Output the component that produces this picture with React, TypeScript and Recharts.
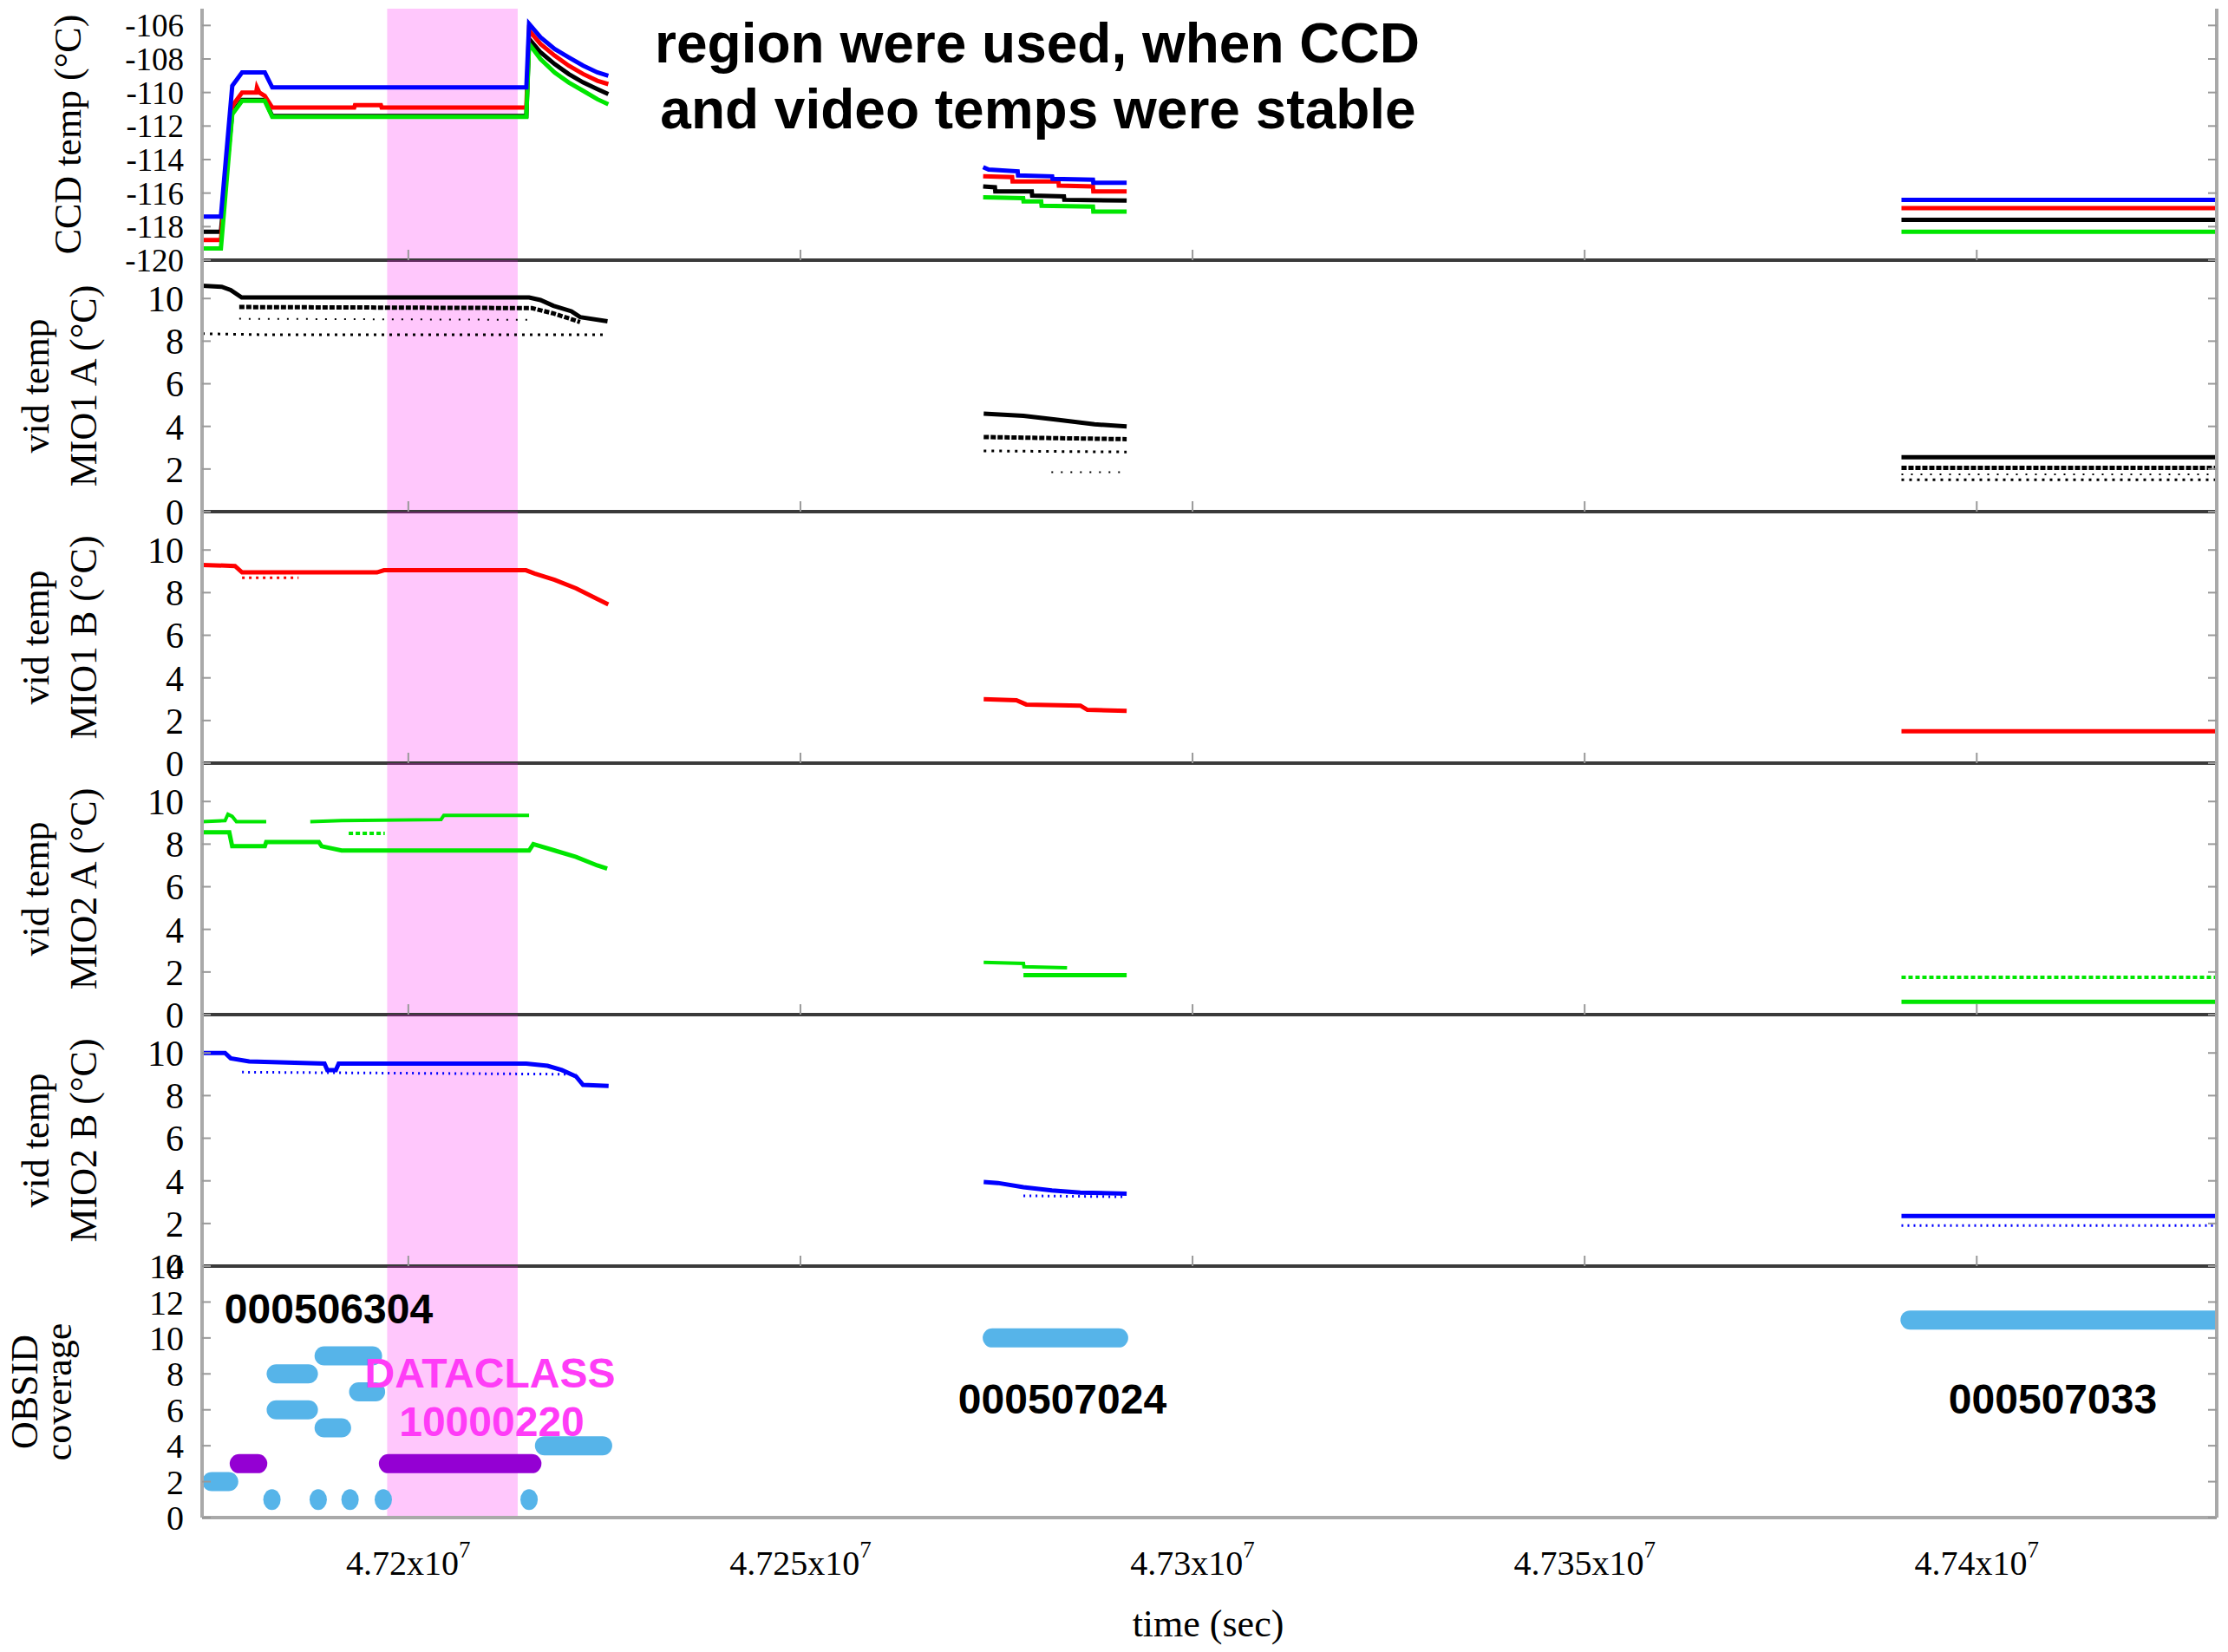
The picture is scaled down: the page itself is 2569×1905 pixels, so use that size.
import React from "react";
import {
  ComposedChart,
  Line,
  Scatter,
  XAxis,
  YAxis,
  ReferenceArea,
} from "recharts";

type Pt = [number, number | null];
type Bar = [number, number, number];

// time axis (sec)
const T_START = 47173700;
const T_END = 47430600;
const X_TICKS = [47200000, 47250000, 47300000, 47350000, 47400000];
const X_TICK_LABELS = ["4.72x10", "4.725x10", "4.73x10", "4.735x10", "4.74x10"];
const X_TICK_EXP = "7";
const SHADE_FROM = 47197300;
const SHADE_TO = 47213950;

const CCD_TICKS = [-120, -118, -116, -114, -112, -110, -108, -106];
const VID_TICKS = [0, 2, 4, 6, 8, 10];
const OBS_TICKS = [0, 2, 4, 6, 8, 10, 12, 14];

// CCD temps
const CCD_BLUE: Pt[] = [
  [47173700, -117.4], [47176100, -117.4], [47177550, -109.6], [47178800, -108.8], [47181700, -108.8],
  [47182650, -109.7], [47215050, -109.7], [47215400, -105.9], [47216850, -106.7], [47218650, -107.4],
  [47220450, -107.9], [47222300, -108.4], [47224100, -108.8], [47225500, -109.0],
  [47250000, null],
  [47273300, -114.45], [47274000, -114.6], [47277700, -114.7], [47277750, -114.95], [47282100, -115.0],
  [47282150, -115.15], [47287300, -115.2], [47287350, -115.38], [47291600, -115.38],
  [47350000, null],
  [47390400, -116.4], [47430600, -116.4],
];
const CCD_RED: Pt[] = [
  [47173700, -118.8], [47176100, -118.8], [47177550, -110.8], [47178800, -110.0], [47180600, -110.0],
  [47180700, -109.7], [47181000, -110.0], [47181700, -110.2], [47182650, -110.9], [47193100, -110.9],
  [47193200, -110.75], [47196500, -110.75], [47196600, -110.9], [47215050, -110.9], [47215400, -106.3],
  [47216850, -107.1], [47218650, -107.8], [47220450, -108.4], [47222300, -108.9], [47224100, -109.3],
  [47225500, -109.5],
  [47250000, null],
  [47273300, -115.0], [47277000, -115.05], [47277050, -115.3], [47282900, -115.3], [47282950, -115.55],
  [47287300, -115.6], [47287350, -115.9], [47291600, -115.9],
  [47350000, null],
  [47390400, -116.9], [47430600, -116.9],
];
const CCD_BLACK: Pt[] = [
  [47173700, -118.3], [47176100, -118.3], [47177550, -111.2], [47178800, -110.45], [47181700, -110.45],
  [47182650, -111.4], [47215050, -111.4], [47215400, -106.8], [47216850, -107.6], [47218650, -108.3],
  [47220450, -108.9], [47222300, -109.4], [47224100, -109.8], [47225500, -110.1],
  [47250000, null],
  [47273300, -115.6], [47274800, -115.65], [47274850, -115.9], [47279500, -115.9], [47279550, -116.15],
  [47283600, -116.2], [47283650, -116.4], [47291600, -116.45],
  [47350000, null],
  [47390400, -117.6], [47430600, -117.6],
];
const CCD_GREEN: Pt[] = [
  [47173700, -119.3], [47176100, -119.3], [47177550, -111.3], [47178800, -110.5], [47181700, -110.5],
  [47182650, -111.45], [47215050, -111.45], [47215400, -107.1], [47216850, -108.0], [47218650, -108.8],
  [47220450, -109.4], [47222300, -109.9], [47224100, -110.4], [47225500, -110.7],
  [47250000, null],
  [47273300, -116.25], [47278400, -116.3], [47278450, -116.5], [47280700, -116.5], [47280750, -116.75],
  [47287300, -116.8], [47287350, -117.1], [47291600, -117.1],
  [47350000, null],
  [47390400, -118.3], [47430600, -118.3],
];

// vid temp MIO1 A
const MIO1A_MAIN: Pt[] = [
  [47173700, 10.6], [47176200, 10.55], [47177350, 10.4], [47178750, 10.05], [47215400, 10.05],
  [47216850, 9.93], [47218500, 9.66], [47220800, 9.4], [47221900, 9.13], [47225400, 8.93],
  [47250000, null],
  [47273370, 4.6], [47278440, 4.5], [47282970, 4.3], [47287500, 4.1], [47291600, 4.0],
  [47350000, null],
  [47390400, 2.55], [47430600, 2.55],
];
const MIO1A_BAND_HI: Pt[] = [
  [47178440, 9.6], [47215760, 9.55], [47218500, 9.3], [47221900, 8.9],
  [47250000, null],
  [47273370, 3.5], [47291600, 3.4],
  [47350000, null],
  [47390400, 2.05], [47430600, 2.05],
];
const MIO1A_BAND_LO: Pt[] = [
  [47173700, 8.35], [47181700, 8.3], [47215760, 8.3], [47225400, 8.3],
  [47250000, null],
  [47273370, 2.85], [47291600, 2.8],
  [47350000, null],
  [47390400, 1.5], [47430600, 1.5],
];
const MIO1A_BAND_MIN: Pt[] = [
  [47178440, 9.05], [47215760, 9.0],
  [47250000, null],
  [47282000, 1.85], [47291600, 1.85],
  [47350000, null],
  [47390400, 1.75], [47430600, 1.75],
];

// vid temp MIO1 B
const MIO1B_MAIN: Pt[] = [
  [47173700, 9.3], [47177900, 9.25], [47178800, 8.95], [47196000, 8.95], [47196900, 9.05],
  [47215000, 9.05], [47216100, 8.9], [47218650, 8.6], [47221400, 8.2], [47224100, 7.7], [47225500, 7.45],
  [47250000, null],
  [47273370, 3.0], [47277540, 2.95], [47278800, 2.75], [47285700, 2.7], [47286600, 2.5], [47291600, 2.45],
  [47350000, null],
  [47390400, 1.5], [47430600, 1.5],
];
const MIO1B_BAND: Pt[] = [[47178800, 8.7], [47186000, 8.7]];

// vid temp MIO2 A
const MIO2A_UPPER: Pt[] = [
  [47173700, 9.05], [47176630, 9.1], [47177000, 9.4], [47177540, 9.3], [47178080, 9.05], [47181880, 9.05],
  [47184500, null],
  [47187500, 9.05], [47191500, 9.1], [47204170, 9.15], [47204530, 9.35], [47215400, 9.35],
  [47250000, null],
  [47273370, 2.45], [47278440, 2.4], [47278500, 2.25], [47284000, 2.2],
];
const MIO2A_LOWER: Pt[] = [
  [47173700, 8.55], [47177170, 8.55], [47177540, 7.9], [47181700, 7.9], [47181880, 8.1], [47188590, 8.1],
  [47188950, 7.9], [47191490, 7.7], [47215400, 7.7], [47215940, 8.0], [47218660, 7.7], [47221380, 7.4],
  [47224090, 7.0], [47225360, 6.85],
  [47250000, null],
  [47278440, 1.85], [47291600, 1.85],
  [47350000, null],
  [47390400, 0.6], [47430600, 0.6],
];
const MIO2A_BAND: Pt[] = [
  [47192400, 8.5], [47197000, 8.5],
  [47350000, null],
  [47390400, 1.75], [47430600, 1.75],
];

// vid temp MIO2 B
const MIO2B_MAIN: Pt[] = [
  [47173700, 10.0], [47176630, 10.0], [47177350, 9.75], [47179710, 9.6], [47189310, 9.5], [47189670, 9.2],
  [47190760, 9.2], [47191120, 9.5], [47215040, 9.5], [47217750, 9.4], [47219570, 9.2], [47221380, 8.9],
  [47222280, 8.5], [47225540, 8.45],
  [47250000, null],
  [47273370, 3.95], [47275180, 3.9], [47278440, 3.7], [47282070, 3.55], [47285690, 3.45], [47291600, 3.4],
  [47350000, null],
  [47390400, 2.35], [47430600, 2.35],
];
const MIO2B_BAND: Pt[] = [
  [47178800, 9.1], [47221400, 9.0],
  [47250000, null],
  [47278440, 3.3], [47291600, 3.25],
  [47350000, null],
  [47390400, 1.9], [47430600, 1.9],
];

// OBSID coverage: [start, end, level]
const OBSID_BLUE_BARS: Bar[] = [
  [47174930, 47177100, 2], [47183150, 47187260, 8], [47183150, 47187260, 6], [47189260, 47195440, 9],
  [47189260, 47191490, 5], [47193660, 47195830, 7], [47217360, 47224780, 4], [47274460, 47290580, 10],
  [47391490, 47430600, 11],
];
const OBSID_PURPLE_BARS: Bar[] = [[47178440, 47180800, 3], [47197460, 47215760, 3]];
const OBSID_DOTS = [47182610, 47188510, 47192570, 47196810, 47215400];
const OBSID_DOT_LEVEL = 1;

const W = 2569;
const H = 1905;
const PLOT_LEFT = 233;
const PLOT_RIGHT = 2556;
const PANEL_H = 290;
const PAD = 40;
const X_AXIS_H = 150;
const SERIF = "'Liberation Serif', 'DejaVu Serif', serif";
const SANS = "'Liberation Sans', Arial, sans-serif";
const FRAME = "#a9a9a9";
const SEP = "#3a3a3a";
const TICK = "#999";
const OBS_BLUE = "#56b4e9";
const OBS_PURPLE = "#9400d3";
const MAGENTA = "#ff3cf7";

const rows = (pts: Pt[]) => pts.map(([t, v]) => ({ t, v }));

interface LineSpec {
  pts: Pt[];
  color: string;
  width: number;
  dash?: string;
}

interface PanelSpec {
  top: number;
  domain: [number, number];
  ticks: number[];
  tickFont: number;
  title: string[];
  titleX: number[];
  lines: LineSpec[];
  blueBars?: Bar[];
  purpleBars?: Bar[];
  dots?: number[];
  first?: boolean;
  last?: boolean;
}

const yTitle = (lines: string[], xs: number[]) => (props: any) => {
  const vb = props.viewBox || { y: PAD, height: PANEL_H };
  const cy = vb.y + vb.height / 2;
  return (
    <g>
      {lines.map((s, i) => (
        <text
          key={i}
          transform={`translate(${xs[i]},${cy}) rotate(-90)`}
          textAnchor="middle"
          fontFamily={SERIF}
          fontSize={44}
          fill="#000"
        >
          {s}
        </text>
      ))}
    </g>
  );
};

// y tick labels sit outside the frame while the tick marks point inward
const yTick = (size: number) => (props: any) => {
  const { y, payload } = props;
  return (
    <text x={PLOT_LEFT - 21} y={y} dy="0.355em" textAnchor="end" fontFamily={SERIF} fontSize={size} fill="#000">
      {payload.value}
    </text>
  );
};

const XTick = (props: any) => {
  const { x, y, payload } = props;
  const i = X_TICKS.indexOf(payload.value);
  return (
    <text x={x} y={y + 66} textAnchor="middle" fontFamily={SERIF} fontSize={40} fill="#000">
      {X_TICK_LABELS[i]}
      <tspan dy={-20} fontSize={27}>
        {X_TICK_EXP}
      </tspan>
    </text>
  );
};

const noLabel = () => "";

function Panel({ p }: { p: PanelSpec }) {
  const height = PANEL_H + PAD + (p.last ? X_AXIS_H : PAD);
  return (
    <div style={{ position: "absolute", left: 0, top: p.top - PAD }}>
      <ComposedChart
        width={W}
        height={height}
        margin={{ top: PAD, right: W - PLOT_RIGHT, bottom: p.last ? 0 : PAD, left: PLOT_LEFT }}
      >
        {p.last ? (
          <XAxis
            type="number"
            dataKey="t"
            domain={[T_START, T_END]}
            ticks={X_TICKS}
            allowDataOverflow
            height={X_AXIS_H}
            tickSize={0}
            tickMargin={0}
            tickLine={false}
            axisLine={{ stroke: FRAME, strokeWidth: 4 }}
            tick={<XTick />}
          />
        ) : (
          <XAxis
            type="number"
            dataKey="t"
            domain={[T_START, T_END]}
            ticks={X_TICKS}
            allowDataOverflow
            mirror
            tickSize={12}
            tickFormatter={noLabel}
            tickLine={{ stroke: TICK, strokeWidth: 2 }}
            axisLine={{ stroke: SEP, strokeWidth: 4 }}
          />
        )}
        <XAxis
          xAxisId="top"
          orientation="top"
          type="number"
          dataKey="t"
          domain={[T_START, T_END]}
          ticks={X_TICKS}
          allowDataOverflow
          mirror
          height={0}
          tickSize={12}
          tickFormatter={noLabel}
          tickLine={{ stroke: TICK, strokeWidth: 2 }}
          axisLine={p.first ? { stroke: FRAME, strokeWidth: 4 } : false}
        />
        <YAxis
          type="number"
          domain={p.domain}
          ticks={p.ticks}
          interval={0}
          allowDataOverflow
          mirror
          width={60}
          tickSize={10}
          tickMargin={0}
          tickLine={{ stroke: TICK, strokeWidth: 2 }}
          axisLine={{ stroke: FRAME, strokeWidth: 4 }}
          tick={yTick(p.tickFont)}
          label={{ content: yTitle(p.title, p.titleX) }}
        />
        <YAxis
          yAxisId="right"
          orientation="right"
          type="number"
          domain={p.domain}
          ticks={p.ticks}
          interval={0}
          allowDataOverflow
          mirror
          width={60}
          tickSize={10}
          tickFormatter={noLabel}
          tickLine={{ stroke: TICK, strokeWidth: 2 }}
          axisLine={{ stroke: FRAME, strokeWidth: 4 }}
        />
        {p.lines.map((l, i) => (
          <Line
            key={`l${i}`}
            data={rows(l.pts)}
            dataKey="v"
            type="linear"
            stroke={l.color}
            strokeWidth={l.width}
            strokeDasharray={l.dash}
            dot={false}
            activeDot={false}
            connectNulls={false}
            isAnimationActive={false}
            legendType="none"
          />
        ))}
        {(p.blueBars || []).map((b, i) => (
          <Line
            key={`b${i}`}
            data={[{ t: b[0], v: b[2] }, { t: b[1], v: b[2] }]}
            dataKey="v"
            stroke={OBS_BLUE}
            strokeWidth={22}
            strokeLinecap="round"
            dot={false}
            activeDot={false}
            isAnimationActive={false}
            legendType="none"
          />
        ))}
        {(p.purpleBars || []).map((b, i) => (
          <Line
            key={`p${i}`}
            data={[{ t: b[0], v: b[2] }, { t: b[1], v: b[2] }]}
            dataKey="v"
            stroke={OBS_PURPLE}
            strokeWidth={22}
            strokeLinecap="round"
            dot={false}
            activeDot={false}
            isAnimationActive={false}
            legendType="none"
          />
        ))}
        {p.dots && (
          <Scatter
            data={p.dots.map((t) => ({ t, v: OBSID_DOT_LEVEL }))}
            dataKey="v"
            fill={OBS_BLUE}
            isAnimationActive={false}
            legendType="none"
            shape={(s: any) => <ellipse cx={s.cx} cy={s.cy} rx={10} ry={12} fill={OBS_BLUE} />}
          />
        )}
        <ReferenceArea x1={SHADE_FROM} x2={SHADE_TO} fill="#ff00f0" fillOpacity={0.22} stroke="none" />
      </ComposedChart>
    </div>
  );
}

const VID_TITLE_X = [56, 111];

const PANELS: PanelSpec[] = [
  {
    top: 10,
    domain: [-120, -105],
    ticks: CCD_TICKS,
    tickFont: 37,
    title: ["CCD temp (°C)"],
    titleX: [93],
    first: true,
    lines: [
      { pts: CCD_BLACK, color: "#000000", width: 5 },
      { pts: CCD_RED, color: "#ff0000", width: 5 },
      { pts: CCD_GREEN, color: "#00e600", width: 5 },
      { pts: CCD_BLUE, color: "#0000ff", width: 5 },
    ],
  },
  {
    top: 300,
    domain: [0, 11.8],
    ticks: VID_TICKS,
    tickFont: 42,
    title: ["vid temp", "MIO1 A (°C)"],
    titleX: VID_TITLE_X,
    lines: [
      { pts: MIO1A_BAND_MIN, color: "#000000", width: 2, dash: "2 9" },
      { pts: MIO1A_BAND_LO, color: "#000000", width: 3, dash: "3 6" },
      { pts: MIO1A_BAND_HI, color: "#000000", width: 5, dash: "6 2" },
      { pts: MIO1A_MAIN, color: "#000000", width: 5 },
    ],
  },
  {
    top: 590,
    domain: [0, 11.8],
    ticks: VID_TICKS,
    tickFont: 42,
    title: ["vid temp", "MIO1 B (°C)"],
    titleX: VID_TITLE_X,
    lines: [
      { pts: MIO1B_BAND, color: "#ff0000", width: 3, dash: "3 5" },
      { pts: MIO1B_MAIN, color: "#ff0000", width: 5 },
    ],
  },
  {
    top: 880,
    domain: [0, 11.8],
    ticks: VID_TICKS,
    tickFont: 42,
    title: ["vid temp", "MIO2 A (°C)"],
    titleX: VID_TITLE_X,
    lines: [
      { pts: MIO2A_BAND, color: "#00e600", width: 4, dash: "5 3" },
      { pts: MIO2A_UPPER, color: "#00e600", width: 4 },
      { pts: MIO2A_LOWER, color: "#00e600", width: 5 },
    ],
  },
  {
    top: 1170,
    domain: [0, 11.8],
    ticks: VID_TICKS,
    tickFont: 42,
    title: ["vid temp", "MIO2 B (°C)"],
    titleX: VID_TITLE_X,
    lines: [
      { pts: MIO2B_BAND, color: "#0000ff", width: 3, dash: "2 5" },
      { pts: MIO2B_MAIN, color: "#0000ff", width: 5 },
    ],
  },
  {
    top: 1460,
    domain: [0, 14],
    ticks: OBS_TICKS,
    tickFont: 40,
    title: ["OBSID", "coverage"],
    titleX: [43, 82],
    lines: [],
    blueBars: OBSID_BLUE_BARS,
    purpleBars: OBSID_PURPLE_BARS,
    dots: OBSID_DOTS,
    last: true,
  },
];

export default function App() {
  return (
    <div style={{ position: "absolute", left: 0, top: 0, width: W, height: H, background: "#fff" }}>
      {PANELS.map((p, i) => (
        <Panel key={i} p={p} />
      ))}
      <svg
        width={W}
        height={H}
        style={{ position: "absolute", left: 0, top: 0, pointerEvents: "none" }}
      >
        <g fontFamily={SANS} fontWeight="bold" textAnchor="middle">
          <text x={1196} y={72} fontSize={64} fill="#000">region were used, when CCD</text>
          <text x={1197} y={148} fontSize={64} fill="#000">and video temps were stable</text>
          <text x={379} y={1526} fontSize={48} fill="#000">000506304</text>
          <text x={565} y={1600} fontSize={48} fill={MAGENTA}>DATACLASS</text>
          <text x={567} y={1656} fontSize={48} fill={MAGENTA}>10000220</text>
          <text x={1225} y={1630} fontSize={48} fill="#000">000507024</text>
          <text x={2367} y={1630} fontSize={48} fill="#000">000507033</text>
        </g>
        <text x={1393} y={1887} textAnchor="middle" fontFamily={SERIF} fontSize={44} fill="#000">
          time (sec)
        </text>
      </svg>
    </div>
  );
}
